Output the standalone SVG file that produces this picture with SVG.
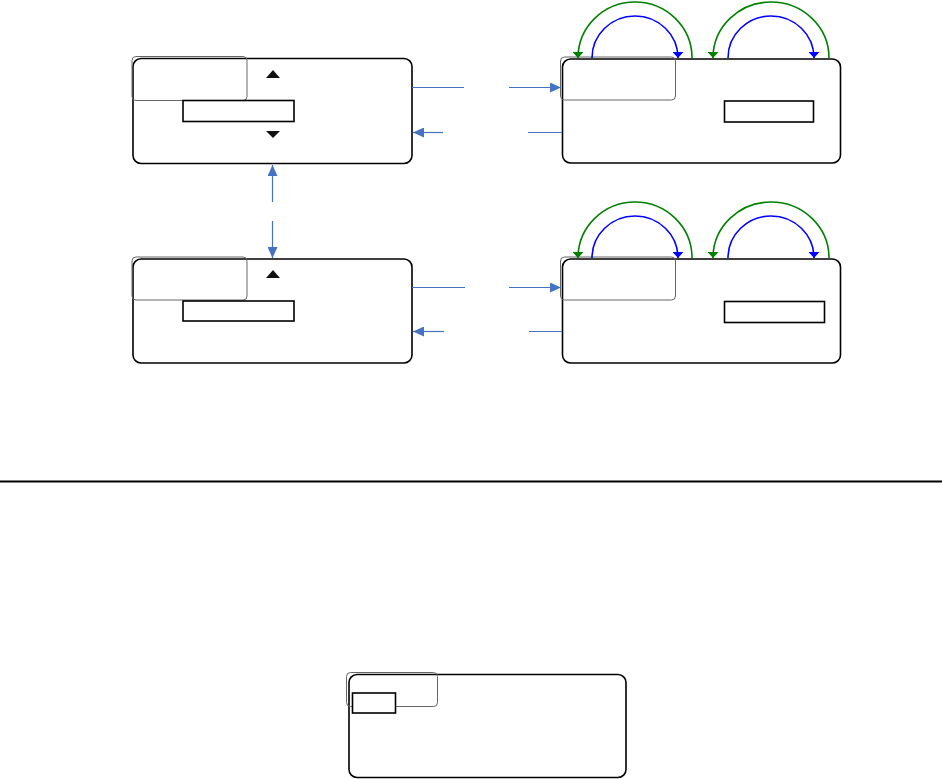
<svg xmlns="http://www.w3.org/2000/svg" width="942" height="779" viewBox="0 0 942 779">
<style>
.outer{fill:#fff;stroke:#000;stroke-width:1.6}
.sel{fill:none;stroke:#666;stroke-width:1}
.field{fill:#fff;stroke:#000;stroke-width:1.6}
.tri{fill:#111}
.conn{stroke:#4472C4;stroke-width:1.2;fill:none}
.g{stroke:#008000;stroke-width:1.6;fill:none}
.b{stroke:#0000FF;stroke-width:1.6;fill:none}
</style>
<defs>
<marker id="ah" viewBox="0 0 11 10" refX="11" refY="5" markerWidth="11" markerHeight="10" markerUnits="userSpaceOnUse" orient="auto" preserveAspectRatio="none"><path d="M0,0 L11,5 L0,10 z" fill="#4472C4"/></marker>
<marker id="ag" viewBox="0 0 6 10" refX="6" refY="5" markerWidth="6" markerHeight="11" markerUnits="userSpaceOnUse" orient="auto" preserveAspectRatio="none"><path d="M0,0 L6,5 L0,10 z" fill="#008000"/></marker>
<marker id="ab" viewBox="0 0 6 10" refX="6" refY="5" markerWidth="6" markerHeight="11" markerUnits="userSpaceOnUse" orient="auto" preserveAspectRatio="none"><path d="M0,0 L6,5 L0,10 z" fill="#0000FF"/></marker>
</defs>
<g id="screen1">
<rect class="outer" x="133" y="58.5" width="279" height="105" rx="8"/>
<rect class="sel" x="132" y="56.5" width="115" height="44" rx="4"/>
<rect class="field" x="183" y="100.5" width="111" height="21"/>
<path class="tri" d="M266,78 L280,78 L273,70 z"/>
<path class="tri" d="M266,131 L280,131 L273,138 z"/>
</g>
<g id="screen2">
<rect class="outer" x="562.5" y="59" width="278" height="104" rx="8"/>
<rect class="sel" x="560.5" y="57" width="115" height="43" rx="4"/>
<rect class="field" x="724.5" y="101" width="89" height="21"/>
</g>
<g id="screen3">
<rect class="outer" x="133" y="259" width="279" height="104" rx="8"/>
<rect class="sel" x="132" y="257" width="115" height="43" rx="4"/>
<rect class="field" x="183" y="301" width="111" height="20"/>
<path class="tri" d="M266,278 L280,278 L273,270 z"/>
</g>
<g id="screen4">
<rect class="outer" x="562.5" y="259" width="278" height="104" rx="8"/>
<rect class="sel" x="560.5" y="257" width="115" height="43" rx="4"/>
<rect class="field" x="724.5" y="301.5" width="100" height="21"/>
</g>
<g id="screen5">
<rect class="outer" x="349" y="674.5" width="277" height="103" rx="8"/>
<rect class="sel" x="346.5" y="672.5" width="91" height="34" rx="4"/>
<rect class="field" x="352.5" y="693" width="43" height="20"/>
</g>
<g id="divider">
<line x1="0" y1="481.5" x2="942" y2="481.5" stroke="#000" stroke-width="2"/>
</g>
<g id="connectors">
<line class="conn" x1="412" y1="87.5" x2="464" y2="87.5"/>
<line class="conn" x1="509" y1="87.5" x2="561" y2="87.5" marker-end="url(#ah)"/>
<line class="conn" x1="443" y1="132.5" x2="413" y2="132.5" marker-end="url(#ah)"/>
<line class="conn" x1="528" y1="132.5" x2="562" y2="132.5"/>
<line class="conn" x1="412" y1="287.5" x2="465" y2="287.5"/>
<line class="conn" x1="509" y1="287.5" x2="561" y2="287.5" marker-end="url(#ah)"/>
<line class="conn" x1="444" y1="331.5" x2="413" y2="331.5" marker-end="url(#ah)"/>
<line class="conn" x1="529" y1="331.5" x2="562" y2="331.5"/>
<line class="conn" x1="272.5" y1="202" x2="272.5" y2="165" marker-end="url(#ah)"/>
<line class="conn" x1="272.5" y1="221" x2="272.5" y2="258" marker-end="url(#ah)"/>
<path class="g" d="M692,58 A57,56 0 0 0 578,58" marker-end="url(#ag)"/>
<path class="b" d="M592,58 A43,42 0 0 1 678,58" marker-end="url(#ab)"/>
<path class="g" d="M829,58 A58,56 0 0 0 713,58" marker-end="url(#ag)"/>
<path class="b" d="M728,58 A43,42 0 0 1 814,58" marker-end="url(#ab)"/>
<path class="g" d="M692,258 A57,56 0 0 0 578,258" marker-end="url(#ag)"/>
<path class="b" d="M592,258 A43,42 0 0 1 678,258" marker-end="url(#ab)"/>
<path class="g" d="M829,258 A58,56 0 0 0 713,258" marker-end="url(#ag)"/>
<path class="b" d="M728,258 A43,42 0 0 1 814,258" marker-end="url(#ab)"/>
</g>
</svg>
